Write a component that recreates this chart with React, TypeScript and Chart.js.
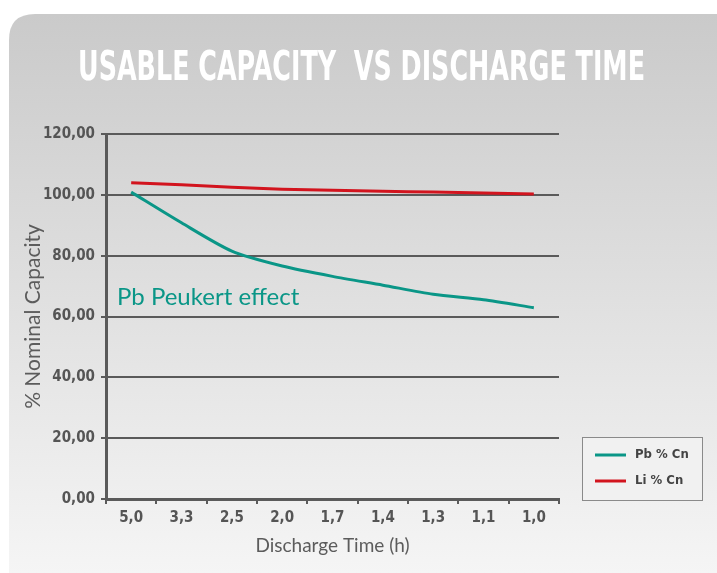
import React, { useEffect, useRef } from "react";
import { Chart, registerables } from "chart.js";

Chart.register(...registerables);

const categories = ["5,0", "3,3", "2,5", "2,0", "1,7", "1,4", "1,3", "1,1", "1,0"];
const pbValues = [100.9, 90.8, 81.5, 76.6, 73.2, 70.3, 67.3, 65.5, 62.9];
const liValues = [104.0, 103.3, 102.5, 101.8, 101.5, 101.2, 100.9, 100.6, 100.3];
const seriesNames = ["Pb % Cn", "Li % Cn"];
const seriesColors = ["#0a9687", "#d2141e"];
const titleText = "USABLE CAPACITY  VS DISCHARGE TIME";
const annotationText = "Pb Peukert effect";
const yTitle = "% Nominal Capacity";
const xTitle = "Discharge Time (h)";

const NARROW = "'Liberation Sans Narrow', 'DejaVu Sans Condensed', sans-serif";
const LIGHT = "Lato, 'Noto Sans', sans-serif";

const backgroundPlugin = {
  id: "panelBg",
  beforeDraw(chart: any) {
    const { ctx, width, height } = chart;
    ctx.save();
    ctx.fillStyle = "#ffffff";
    ctx.fillRect(0, 0, width, height);
    const x0 = 9, y0 = 14, r = 26;
    const g = ctx.createLinearGradient(0, y0, 0, height);
    g.addColorStop(0, "#cacaca");
    g.addColorStop(1, "#f5f5f5");
    ctx.fillStyle = g;
    ctx.beginPath();
    ctx.moveTo(x0, height);
    ctx.lineTo(x0, y0 + r);
    ctx.quadraticCurveTo(x0, y0, x0 + r, y0);
    ctx.lineTo(width, y0);
    ctx.lineTo(width, height);
    ctx.closePath();
    ctx.fill();
    // title
    ctx.font = `bold 40px ${NARROW}`;
    ctx.fillStyle = "#ffffff";
    ctx.textBaseline = "alphabetic";
    ctx.textAlign = "left";
    const w = ctx.measureText(titleText).width;
    const target = 567;
    ctx.translate(78, 80);
    ctx.scale(target / w, 1);
    ctx.fillText(titleText, 0, 0);
    ctx.restore();
  },
};

const overlayPlugin = {
  id: "overlay",
  afterDatasetsDraw(chart: any) {
    const { ctx, chartArea, scales } = chart;
    ctx.save();
    // annotation
    ctx.font = `24px ${LIGHT}`;
    ctx.fillStyle = seriesColors[0];
    ctx.textBaseline = "alphabetic";
    ctx.textAlign = "left";
    ctx.fillText(annotationText, chartArea.left + 11, scales.y.getPixelForValue(63.8));
    // legend
    const bx = 582, by = 437, bw = 120, bh = 63;
    ctx.fillStyle = "#f1f1f1";
    ctx.fillRect(bx, by, bw, bh);
    ctx.strokeStyle = "#8a8a8a";
    ctx.lineWidth = 1;
    ctx.strokeRect(bx + 0.5, by + 0.5, bw, bh);
    ctx.font = `bold 13px ${NARROW}`;
    ctx.textBaseline = "middle";
    chart.data.datasets.forEach((ds: any, i: number) => {
      const yy = by + 18 + i * 26;
      ctx.strokeStyle = ds.borderColor;
      ctx.lineWidth = 3;
      ctx.beginPath();
      ctx.moveTo(bx + 13, yy);
      ctx.lineTo(bx + 44, yy);
      ctx.stroke();
      ctx.fillStyle = "#444";
      ctx.fillText(ds.label, bx + 53, yy);
    });
    ctx.restore();
  },
};

export default function App() {
  const ref = useRef<HTMLCanvasElement>(null);
  useEffect(() => {
    if (!ref.current) return;
    const chart = new Chart(ref.current, {
      type: "line",
      data: {
        labels: categories,
        datasets: [
          {
            label: seriesNames[0],
            data: pbValues,
            borderColor: seriesColors[0],
            backgroundColor: seriesColors[0],
            borderWidth: 3,
            pointRadius: 0,
            tension: 0.25,
          },
          {
            label: seriesNames[1],
            data: liValues,
            borderColor: seriesColors[1],
            backgroundColor: seriesColors[1],
            borderWidth: 3,
            pointRadius: 0,
            tension: 0.25,
          },
        ],
      },
      options: {
        animation: false,
        responsive: false,
        layout: { padding: { left: 21, right: 158, top: 134, bottom: 16 } },
        plugins: {
          legend: { display: false },
          title: { display: false },
          tooltip: { enabled: false },
        },
        scales: {
          x: {
            type: "category",
            offset: true,
            grid: {
              offset: true,
              drawOnChartArea: false,
              drawTicks: true,
              tickLength: 5,
              color: "#5a5a5a",
              lineWidth: 2,
            },
            border: { display: true, color: "#5a5a5a", width: 3 },
            ticks: {
              color: "#555",
              font: { family: NARROW, size: 15, weight: "bold" },
              padding: 5,
              maxRotation: 0,
            },
            title: {
              display: true,
              text: xTitle,
              color: "#5c5c5c",
              font: { family: LIGHT, size: 19 },
              padding: { top: 0, bottom: 0 },
            },
            afterFit(scale: any) {
              scale.height = 58;
            },
          },
          y: {
            min: 0,
            max: 120,
            ticks: {
              stepSize: 20,
              color: "#555",
              font: { family: NARROW, size: 15, weight: "bold" },
              padding: 6,
              callback: (v: any) => Number(v).toFixed(2).replace(".", ","),
            },
            grid: {
              color: "#5a5a5a",
              lineWidth: 2,
              tickLength: 5,
            },
            border: { display: true, color: "#5a5a5a", width: 3 },
            title: {
              display: true,
              text: yTitle,
              color: "#5c5c5c",
              font: { family: LIGHT, size: 21 },
              padding: { top: 0, bottom: 0 },
            },
            afterFit(scale: any) {
              scale.width = 85;
            },
          },
        },
      },
      plugins: [backgroundPlugin, overlayPlugin],
    });
    return () => chart.destroy();
  }, []);
  return (
    <div style={{ position: "absolute", left: 0, top: 0, width: 717, height: 573 }}>
      <canvas ref={ref} width={717} height={573} style={{ display: "block" }} />
    </div>
  );
}
